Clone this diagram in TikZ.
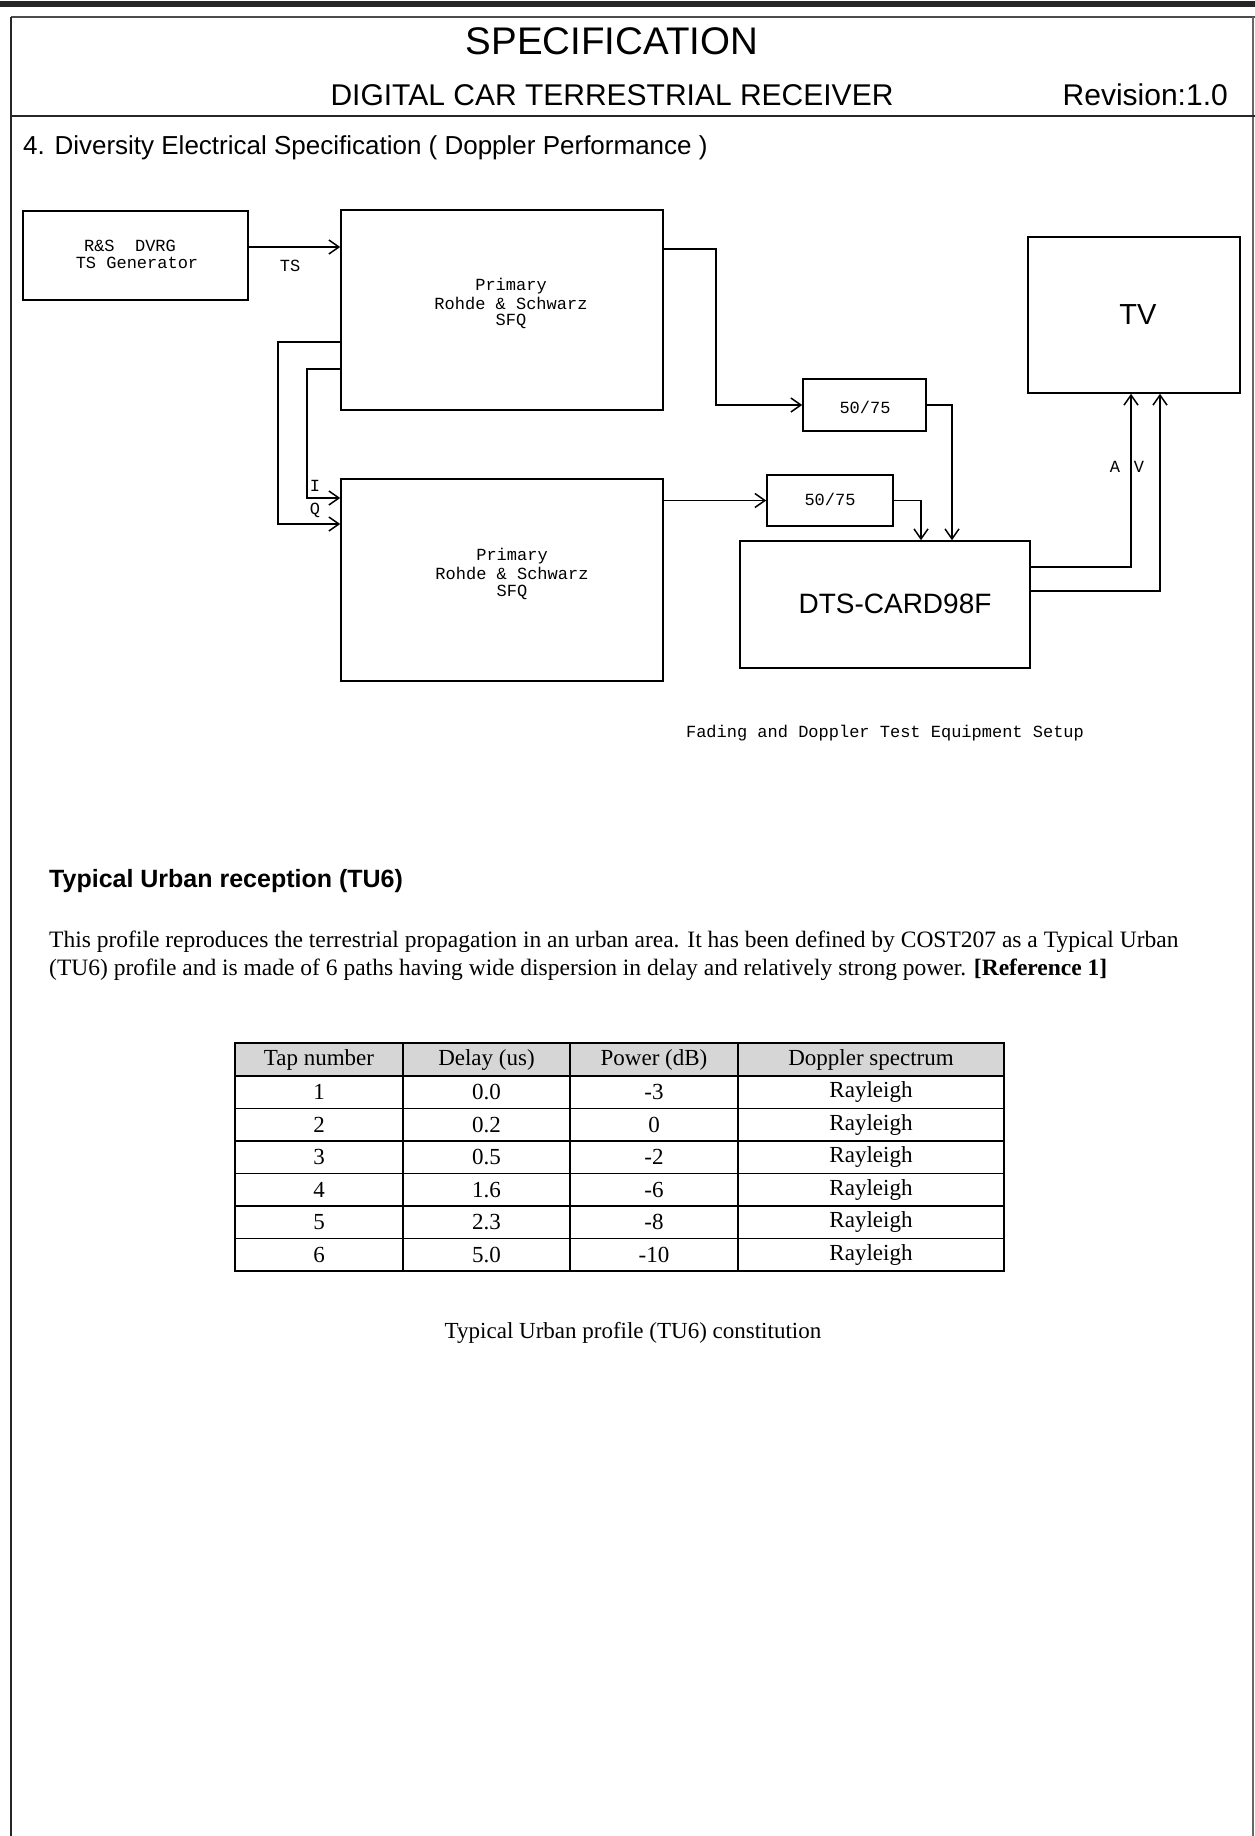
\documentclass[tikz,border=0pt]{standalone}
\usepackage{fontspec}
\setmainfont{Liberation Serif}
\setsansfont{Liberation Sans}
\newfontfamily\cadfont{Liberation Mono}
\usetikzlibrary{arrows.meta}
\tikzset{
  box/.style={draw, rectangle, line width=1.6pt, inner sep=0pt},
  arr/.style={line width=1.5pt, -{Straight Barb[length=10pt,width=14pt,line width=1.5pt]}},
  cadtxt/.style={font=\cadfont\fontsize{17}{18}\selectfont, inner sep=0pt},
  bigtxt/.style={font=\sffamily\fontsize{28}{30}\selectfont, inner sep=0pt},
  cell/.style={draw, rectangle, line width=1.2pt, inner sep=0pt, font=\rmfamily\fontsize{23}{24}\selectfont},
  frameline/.style={line width=2.5pt, color=black!85},
}
\newcommand\tabrow[8]{%
  \node[cell, fill=#8, minimum width=168pt, minimum height={#3-#2}] (#1-1) at (319,{(#2+#3)/2}) {#4};
  \node[cell, fill=#8, minimum width=167pt, minimum height={#3-#2}] (#1-2) at (486.5,{(#2+#3)/2}) {#5};
  \node[cell, fill=#8, minimum width=168pt, minimum height={#3-#2}] (#1-3) at (654,{(#2+#3)/2}) {#6};
  \node[cell, fill=#8, minimum width=266pt, minimum height={#3-#2}] (#1-4) at (871,{(#2+#3)/2}) {#7};
}
\begin{document}
\begin{tikzpicture}[x=1pt,y=-1pt]
\useasboundingbox (0,0) rectangle (1255,1836);
% ---------- page frame ----------
\fill[black!85] (0,1) rectangle (1255,7);
\draw[line width=2pt, black!70] (11,17) -- (1255,17);
\draw[frameline] (11,17) -- (11,1836);
\draw[line width=1.5pt, black!60] (1253,17) -- (1253,1836);
\draw[frameline] (11,116) -- (1255,116);
% ---------- header ----------
\node[anchor=base, inner sep=0pt, font=\sffamily\fontsize{38.5}{40}\selectfont] (title) at (612,55) {SPECIFICATION};
\node[anchor=base, inner sep=0pt, font=\sffamily\fontsize{30}{32}\selectfont] (subtitle) at (612,105) {DIGITAL CAR TERRESTRIAL RECEIVER};
\node[anchor=base east, inner sep=0pt, font=\sffamily\fontsize{30}{32}\selectfont] (rev) at (1228,105) {Revision:1.0};
\node[anchor=base west, inner sep=0pt, font=\sffamily\fontsize{26}{28}\selectfont] (section) at (23,154) {4. Diversity Electrical Specification ( Doppler Performance )};
% ---------- diagram boxes ----------
\node[box, minimum width=225pt, minimum height=89pt] (dvrg) at (135.5,255.5) {};
\node[box, minimum width=322pt, minimum height=200pt] (sfqA) at (502,310) {};
\node[box, minimum width=322pt, minimum height=202pt] (sfqB) at (502,580) {};
\node[box, minimum width=123pt, minimum height=52pt] (attA) at (864.5,405) {};
\node[box, minimum width=126pt, minimum height=51pt] (attB) at (830,500.5) {};
\node[box, minimum width=290pt, minimum height=127pt] (dts) at (885,604.5) {};
\node[box, minimum width=212pt, minimum height=156pt] (tv) at (1134,315) {};
% box texts
\node[cadtxt] (dvrgT1) at (130,246) {R\&S\ \ DVRG};
\node[cadtxt] (dvrgT2) at (137,263) {TS Generator};
\node[cadtxt] (sfqAT1) at (511,286) {Primary};
\node[cadtxt] (sfqAT2) at (511,303) {Rohde \& Schwarz};
\node[cadtxt] (sfqAT3) at (511,321) {SFQ};
\node[cadtxt] (sfqBT1) at (512,556) {Primary};
\node[cadtxt] (sfqBT2) at (512,573) {Rohde \& Schwarz};
\node[cadtxt] (sfqBT3) at (512,592) {SFQ};
\node[cadtxt] (attAT) at (865,407) {50/75};
\node[cadtxt] (attBT) at (830,499) {50/75};
\node[bigtxt] (dtsT) at (895,604) {DTS-CARD98F};
\node[bigtxt, font=\sffamily\fontsize{29}{30}\selectfont] (tvT) at (1138,315) {TV};
% ---------- connectors ----------
\draw[arr] (dvrg.east |- 0,247) -- (sfqA.west |- 0,247);
\node[cadtxt] (tsL) at (290,266) {TS};
\coordinate (bendA) at (716,405);
\draw[arr] (sfqA.east |- 0,249) -| (bendA) -- (attA.west);
\draw[arr] (attA.east) -| (dts.north -| 952,0);
\draw[arr] (sfqB.east |- attB.west) -- (attB.west);
\draw[arr] (attB.east) -| (dts.north -| 921,0);
\draw[arr] (dts.east |- 0,567) -| (tv.south -| 1131,0);
\draw[arr] (dts.east |- 0,591) -| (tv.south -| 1160,0);
\node[cadtxt] (aL) at (1115,467) {A};
\node[cadtxt] (vL) at (1139,467) {V};
\coordinate (bendQ) at (278,524);
\coordinate (bendI) at (307,498);
\draw[arr] (sfqA.west |- 0,342) -| (bendQ) -- (sfqB.west |- bendQ);
\draw[arr] (sfqA.west |- 0,369) -| (bendI) -- (sfqB.west |- bendI);
\node[cadtxt] (iL) at (315,486) {I};
\node[cadtxt] (qL) at (315,510) {Q};
\node[cadtxt] (caption) at (885,733) {Fading and Doppler Test Equipment Setup};
% ---------- TU6 text ----------
\node[anchor=base west, inner sep=0pt, font=\sffamily\bfseries\fontsize{25}{27}\selectfont] (tuhead) at (49,887) {Typical Urban reception (TU6)};
\node[anchor=base west, inner sep=0pt, font=\rmfamily\fontsize{23.5}{25}\selectfont] (para1) at (49,947) {This profile reproduces the terrestrial propagation in an urban area. It has been defined by COST207 as a Typical Urban};
\node[anchor=base west, inner sep=0pt, font=\rmfamily\fontsize{23.5}{25}\selectfont] (para2) at (49,975) {(TU6) profile and is made of 6 paths having wide dispersion in delay and relatively strong power. \textbf{[Reference 1]}};
% ---------- table ----------
\tabrow{h}{1043}{1076}{Tap number}{Delay (us)}{Power (dB)}{Doppler spectrum}{black!16}
\tabrow{r1}{1076}{1108.5}{1}{0.0}{-3}{Rayleigh}{white}
\tabrow{r2}{1108.5}{1141}{2}{0.2}{0}{Rayleigh}{white}
\tabrow{r3}{1141}{1173.5}{3}{0.5}{-2}{Rayleigh}{white}
\tabrow{r4}{1173.5}{1206}{4}{1.6}{-6}{Rayleigh}{white}
\tabrow{r5}{1206}{1238.5}{5}{2.3}{-8}{Rayleigh}{white}
\tabrow{r6}{1238.5}{1271}{6}{5.0}{-10}{Rayleigh}{white}
\node[inner sep=0pt, font=\rmfamily\fontsize{23}{24}\selectfont] (tabcap) at (633,1333) {Typical Urban profile (TU6) constitution};
\end{tikzpicture}
\end{document}
